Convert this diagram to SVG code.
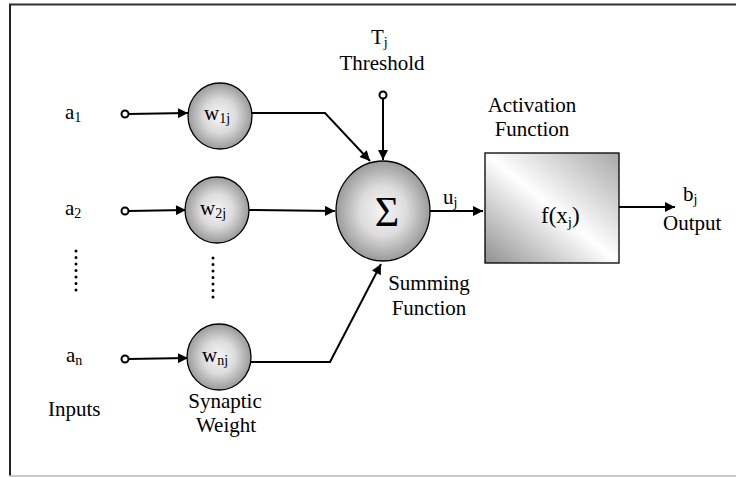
<svg xmlns="http://www.w3.org/2000/svg" width="736" height="477" viewBox="0 0 736 477">
<defs>
<radialGradient id="sph" cx="50%" cy="50%" r="50%">
<stop offset="0" stop-color="#f6f6f6"/>
<stop offset="0.5" stop-color="#dcdcdc"/>
<stop offset="1" stop-color="#9a9a9a"/>
</radialGradient>
<linearGradient id="box" x1="0" y1="1" x2="1" y2="0">
<stop offset="0" stop-color="#909090"/>
<stop offset="0.5" stop-color="#ffffff"/>
<stop offset="1" stop-color="#a8a8a8"/>
</linearGradient>
<marker id="arr" viewBox="0 0 10 10" refX="10" refY="5" markerWidth="11" markerHeight="10" markerUnits="userSpaceOnUse" orient="auto">
<path d="M0,0 L10,5 L0,10 z" fill="#000"/>
</marker>
</defs>
<style>
text{font-family:"Liberation Serif","Times New Roman",serif;font-size:21px;fill:#000}
.sub{font-size:14px}
.c{stroke:#000;stroke-width:2;fill:none}
.a{stroke:#000;stroke-width:2;fill:none;marker-end:url(#arr)}
.port{fill:#fff;stroke:#000;stroke-width:2}
.node{fill:url(#sph);stroke:#000;stroke-width:1.3}
.dot{stroke:#000;stroke-width:3;stroke-dasharray:0 6.5;stroke-linecap:round}
</style>
<rect x="0" y="0" width="736" height="477" fill="#fff"/>
<g id="frame">
<line x1="9" y1="4.5" x2="736" y2="4.5" stroke="#333" stroke-width="2"/>
<line x1="10" y1="4" x2="10" y2="476" stroke="#222" stroke-width="2"/>
<line x1="9" y1="476" x2="736" y2="476" stroke="#b8b8b8" stroke-width="1.5"/>
</g>
<g id="connectors">
<line class="a" x1="128" y1="114" x2="188" y2="113"/>
<line class="a" x1="128" y1="211" x2="186" y2="210"/>
<line class="a" x1="128" y1="359" x2="188" y2="358"/>
<polyline class="a" points="252,113 325,113 370,161"/>
<line class="a" x1="249" y1="210" x2="335" y2="211"/>
<polyline class="a" points="251,362 330,362 381,264"/>
<line class="a" x1="383" y1="98" x2="383" y2="160"/>
<line class="a" x1="430" y1="211" x2="483" y2="211"/>
<line class="a" x1="619" y1="207" x2="675" y2="207"/>
<line class="dot" x1="76" y1="251" x2="76" y2="294"/>
<line class="dot" x1="213" y1="258" x2="213" y2="300"/>
</g>
<g id="input1">
<text x="65" y="119">a<tspan class="sub" dy="3">1</tspan></text>
<circle class="port" cx="125" cy="114" r="3.5"/>
</g>
<g id="input2">
<text x="65" y="215">a<tspan class="sub" dy="3">2</tspan></text>
<circle class="port" cx="125" cy="211" r="3.5"/>
</g>
<g id="inputn">
<text x="66" y="362">a<tspan class="sub" dy="3">n</tspan></text>
<circle class="port" cx="125" cy="359" r="3.5"/>
</g>
<g id="inputs-label"><text x="48" y="416">Inputs</text></g>
<g id="w1">
<ellipse class="node" cx="220" cy="116" rx="32" ry="33"/>
<text x="204" y="120">w<tspan class="sub" dy="3">1j</tspan></text>
</g>
<g id="w2">
<ellipse class="node" cx="217" cy="210" rx="32" ry="33"/>
<text x="200" y="215">w<tspan class="sub" dy="3">2j</tspan></text>
</g>
<g id="wn">
<ellipse class="node" cx="219" cy="357" rx="32" ry="33"/>
<text x="202" y="362">w<tspan class="sub" dy="3">nj</tspan></text>
</g>
<g id="weight-label">
<text x="225" y="408" text-anchor="middle">Synaptic</text>
<text x="226" y="432" text-anchor="middle">Weight</text>
</g>
<g id="threshold">
<text x="371" y="44">T<tspan class="sub" dy="3">j</tspan></text>
<text x="382" y="70" text-anchor="middle">Threshold</text>
<circle class="port" cx="383" cy="95" r="3.5"/>
</g>
<g id="sum">
<ellipse class="node" cx="383" cy="211" rx="47" ry="50"/>
<text x="387" y="226" text-anchor="middle" style="font-size:42px">Σ</text>
<text x="429" y="290" text-anchor="middle">Summing</text>
<text x="429" y="315" text-anchor="middle">Function</text>
</g>
<g id="uj"><text x="443" y="204">u<tspan class="sub" dy="3">j</tspan></text></g>
<g id="activation">
<text x="532" y="112" text-anchor="middle">Activation</text>
<text x="532" y="136" text-anchor="middle">Function</text>
<rect x="485" y="153" width="134" height="110" fill="url(#box)" stroke="#000" stroke-width="1.3"/>
<text x="541" y="223" style="font-size:23px">f(x<tspan class="sub" dy="4" style="font-size:15px">j</tspan><tspan dy="-4">)</tspan></text>
</g>
<g id="output">
<text x="683" y="201">b<tspan class="sub" dy="3">j</tspan></text>
<text x="663" y="230">Output</text>
</g>
</svg>
